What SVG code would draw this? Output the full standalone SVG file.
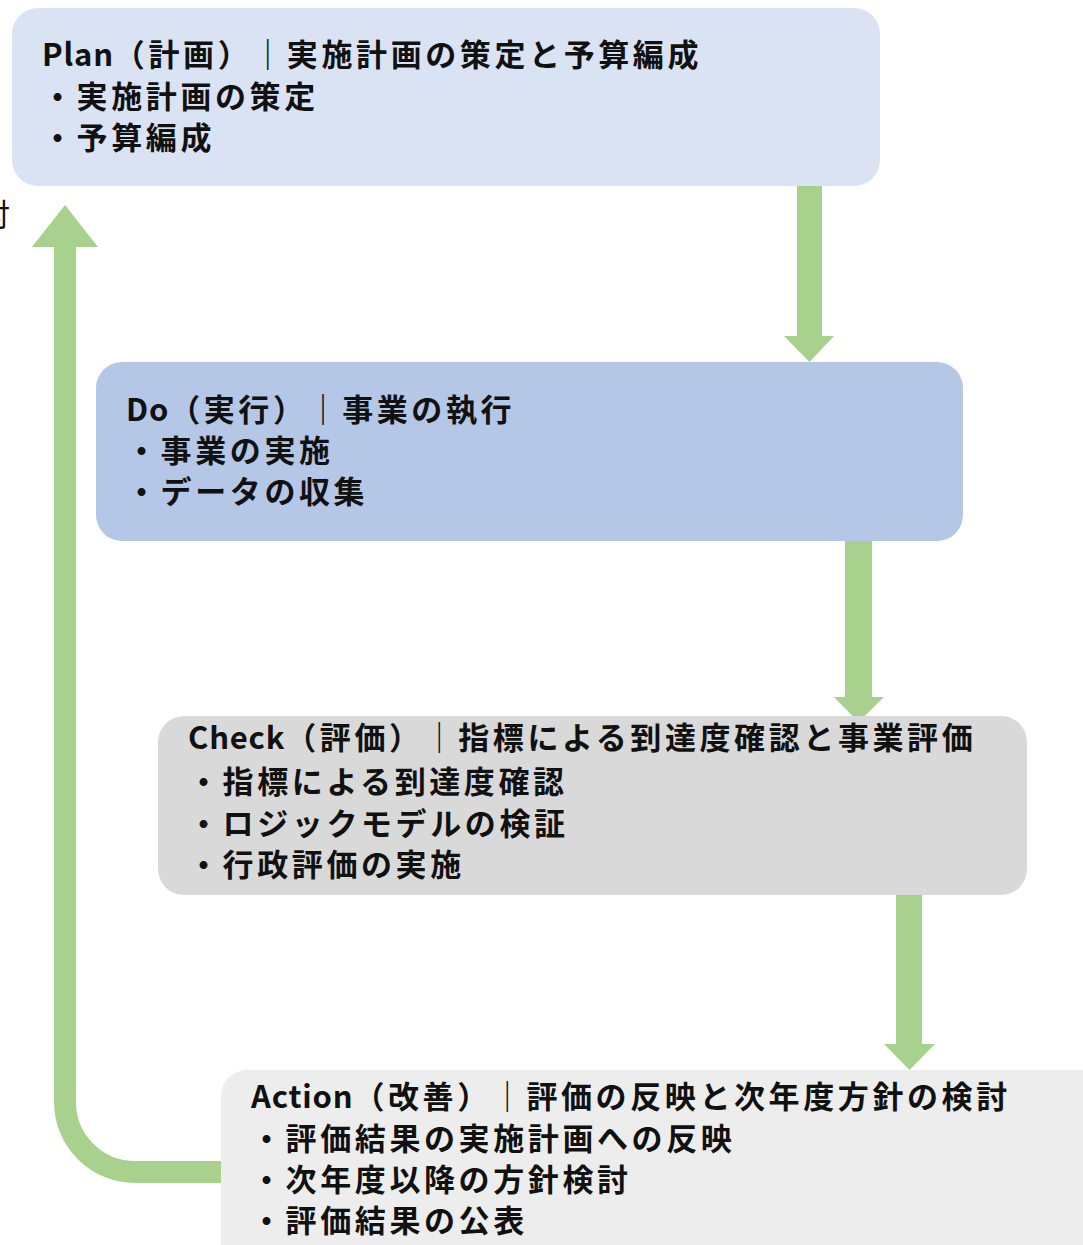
<svg xmlns="http://www.w3.org/2000/svg" width="1083" height="1245" viewBox="0 0 1083 1245">
<style>
text{font-family:"Noto Sans CJK JP","Noto Sans",sans-serif;font-size:31px;font-weight:bold;fill:#111;letter-spacing:3.6px}
.en{letter-spacing:0.8px}
.frag{font-weight:normal;letter-spacing:0}
.arr{fill:#a9d18e}
</style>
<rect width="1083" height="1245" fill="#fff"/>
<g id="connectors">
<path d="M797 186H822V336H834L809.5 362L784 336H797Z" class="arr"/>
<path d="M845 541H872V697H884L858.5 722L834 697H845Z" class="arr"/>
<path d="M896 895H922V1044H935L909.5 1070L884 1044H896Z" class="arr"/>
<path d="M222 1172H135A70 70 0 0 1 65 1102V240" fill="none" stroke="#a9d18e" stroke-width="22"/>
<path d="M32 247L65 205L98 247Z" class="arr"/>
</g>
<g id="plan">
<rect x="12" y="8" width="868" height="178" rx="26" fill="#dae3f3"/>
<text x="42" y="66"><tspan class="en">Plan</tspan>（計画）｜実施計画の策定と予算編成</text>
<text x="42" y="108">・実施計画の策定</text>
<text x="42" y="149">・予算編成</text>
</g>
<g id="do">
<rect x="96" y="362" width="867" height="179" rx="26" fill="#b4c7e7"/>
<text x="126" y="421"><tspan class="en">Do</tspan>（実行）｜事業の執行</text>
<text x="126" y="462">・事業の実施</text>
<text x="126" y="503">・データの収集</text>
</g>
<g id="check">
<rect x="158" y="716" width="869" height="179" rx="26" fill="#d9d9d9"/>
<text x="188" y="749"><tspan class="en">Check</tspan>（評価）｜指標による到達度確認と事業評価</text>
<text x="188" y="793">・指標による到達度確認</text>
<text x="188" y="835">・ロジックモデルの検証</text>
<text x="188" y="876">・行政評価の実施</text>
</g>
<g id="action">
<rect x="221" y="1070" width="890" height="200" rx="26" fill="#ededed"/>
<text x="251" y="1108"><tspan class="en">Action</tspan>（改善）｜評価の反映と次年度方針の検討</text>
<text x="251" y="1150">・評価結果の実施計画への反映</text>
<text x="251" y="1191">・次年度以降の方針検討</text>
<text x="251" y="1232">・評価結果の公表</text>
</g>
<text class="frag" x="-21" y="226">討</text>
</svg>
